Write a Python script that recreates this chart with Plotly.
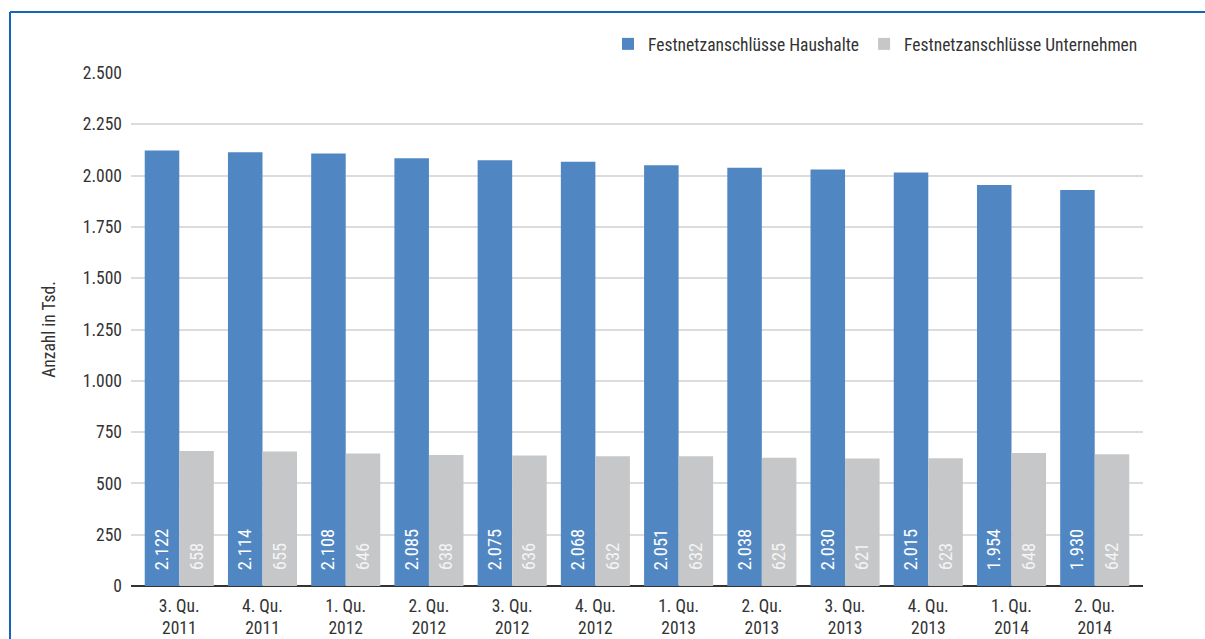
import plotly.graph_objects as go

categories = ["3. Qu.<br>2011", "4. Qu.<br>2011", "1. Qu.<br>2012", "2. Qu.<br>2012",
              "3. Qu.<br>2012", "4. Qu.<br>2012", "1. Qu.<br>2013", "2. Qu.<br>2013",
              "3. Qu.<br>2013", "4. Qu.<br>2013", "1. Qu.<br>2014", "2. Qu.<br>2014"]
haushalte = [2122, 2114, 2108, 2085, 2075, 2068, 2051, 2038, 2030, 2015, 1954, 1930]
unternehmen = [658, 655, 646, 638, 636, 632, 632, 625, 621, 623, 648, 642]
tick_vals = [0, 250, 500, 750, 1000, 1250, 1500, 1750, 2000, 2250, 2500]

FONT = "Roboto Condensed, Liberation Sans Narrow, DejaVu Sans Condensed, sans-serif"

def de(v):
    return "\u00a0\u00a0\u00a0" + f"{v:,}".replace(",", ".")

fig = go.Figure()
fig.add_trace(go.Bar(
    x=categories, y=haushalte, name="Festnetzanschlüsse Haushalte",
    marker=dict(color="#5087c3", line=dict(width=0)),
    text=[de(v) for v in haushalte], textposition="inside", insidetextanchor="start",
    textangle=-90, textfont=dict(color="white", size=18.5, family=FONT),
))
fig.add_trace(go.Bar(
    x=categories, y=unternehmen, name="Festnetzanschlüsse Unternehmen",
    marker=dict(color="#c6c7c9", line=dict(width=0)),
    text=[de(v) for v in unternehmen], textposition="inside", insidetextanchor="start",
    textangle=-90, textfont=dict(color="#f4f4f4", size=18.5, family=FONT),
))

L, R, T, B = 131, 62, 73, 53
W, H = 1205, 639
pw, ph = W - L - R, H - T - B

fig.update_layout(
    width=W, height=H,
    margin=dict(l=L, r=R, t=T, b=B, pad=0),
    paper_bgcolor="white", plot_bgcolor="white",
    barmode="group", bargap=0.17, bargroupgap=0,
    separators=",.",
    font=dict(family=FONT, size=17.5, color="#333333"),
    uniformtext=dict(minsize=10, mode="show"),
    legend=dict(orientation="h", x=1.0, xanchor="right", y=1 + 29 / ph, yanchor="middle",
                font=dict(size=17.5, color="#333333"), itemwidth=30, traceorder="normal",
                bgcolor="rgba(0,0,0,0)"),
    xaxis=dict(range=[-0.58, 11.58], showgrid=False, ticks="", showline=False,
               ticklabelstandoff=7, automargin=False,
               tickfont=dict(size=17.5, color="#333333"), fixedrange=True),
    yaxis=dict(range=[0, 2500], tickvals=tick_vals, tickformat=",d", automargin=False,
               showgrid=True, gridcolor="#dcdcdc", gridwidth=2,
               zeroline=True, zerolinecolor="#333333", zerolinewidth=1.5,
               ticks="", ticklabelstandoff=8,
               tickfont=dict(size=17.5, color="#333333"),
               title=dict(text="Anzahl in Tsd.", font=dict(size=17.5, color="#333333"), standoff=22)),
    shapes=[
        dict(type="line", xref="paper", yref="paper",
             x0=(10 - L) / pw, x1=(W + 5 - L) / pw, y0=1 + (T - 12) / ph, y1=1 + (T - 12) / ph,
             line=dict(color="#1565b8", width=2)),
        dict(type="line", xref="paper", yref="paper",
             x0=(10 - L) / pw, x1=(10 - L) / pw, y0=1 + (T - 12) / ph, y1=-(B + 5) / ph,
             line=dict(color="#1565b8", width=2)),
    ],
)

fig.write_html("out.html")
